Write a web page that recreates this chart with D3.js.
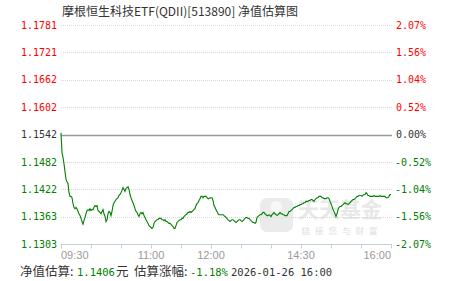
<!DOCTYPE html>
<html>
<head>
<meta charset="utf-8">
<script src="https://cdn.jsdelivr.net/npm/d3@7"></script>
<style>
body { margin: 0; background: #fff; }
svg { display: block; }
</style>
</head>
<body>
<script>
var width = 451, height = 281;

// chart data
var title = "摩根恒生科技ETF(QDII)[513890] 净值估算图";
var baseNav = 1.1542;
var navTicks = [1.1781, 1.1721, 1.1662, 1.1602, 1.1542, 1.1482, 1.1422, 1.1363, 1.1303];
var pctLabels = ["2.07%", "1.56%", "1.04%", "0.52%", "0.00%", "-0.52%", "-1.04%", "-1.56%", "-2.07%"];
var timeTicks = [0, 30, 60, 90, 120, 150, 180, 210, 240, 270, 300, 330];
var timeLabelPos = [0, 90, 150, 240, 330];
var timeLabels = ["09:30", "11:00", "12:00", "14:30", "16:00"];

// estimated nav, one value per trading minute from 09:30 (lunch collapsed)
var nav = [
 1.1546,1.1502,1.1492,1.1478,1.1461,1.1444,1.1439,1.1435,1.1415,1.1407,
 1.1407,1.1404,1.1391,1.1383,1.1380,1.1383,1.1380,1.1374,1.1369,1.1365,
 1.1359,1.1352,1.1346,1.1354,1.1361,1.1369,1.1376,1.1378,1.1376,1.1380,
 1.1376,1.1378,1.1378,1.1383,1.1387,1.1385,1.1387,1.1376,1.1374,1.1372,
 1.1369,1.1374,1.1378,1.1369,1.1363,1.1352,1.1356,1.1369,1.1374,1.1372,
 1.1365,1.1374,1.1387,1.1393,1.1396,1.1400,1.1402,1.1404,1.1409,1.1411,
 1.1415,1.1420,1.1426,1.1422,1.1418,1.1424,1.1426,1.1428,1.1422,1.1411,
 1.1404,1.1398,1.1393,1.1387,1.1380,1.1374,1.1372,1.1367,1.1363,1.1369,
 1.1372,1.1369,1.1372,1.1365,1.1361,1.1356,1.1352,1.1348,1.1343,1.1341,
 1.1339,1.1337,1.1339,1.1348,1.1352,1.1354,1.1356,1.1356,1.1359,1.1359,
 1.1359,1.1356,1.1356,1.1354,1.1356,1.1352,1.1352,1.1350,1.1348,1.1348,
 1.1346,1.1343,1.1341,1.1337,1.1337,1.1343,1.1350,1.1352,1.1354,1.1356,
 1.1356,1.1359,1.1359,1.1363,1.1365,1.1367,1.1369,1.1372,1.1372,1.1374,
 1.1372,1.1374,1.1376,1.1378,1.1380,1.1387,1.1391,1.1393,1.1398,1.1402,
 1.1407,1.1407,1.1404,1.1407,1.1407,1.1407,1.1404,1.1402,1.1402,1.1404,
 1.1404,1.1404,1.1398,1.1387,1.1383,1.1378,1.1374,1.1369,1.1367,1.1367,
 1.1367,1.1367,1.1367,1.1365,1.1363,1.1361,1.1359,1.1356,1.1354,1.1352,
 1.1354,1.1356,1.1356,1.1354,1.1352,1.1350,1.1352,1.1354,1.1356,1.1356,
 1.1354,1.1352,1.1354,1.1356,1.1359,1.1361,1.1361,1.1359,1.1359,1.1356,
 1.1354,1.1352,1.1350,1.1350,1.1348,1.1350,1.1361,1.1363,1.1365,1.1367,
 1.1367,1.1369,1.1372,1.1372,1.1369,1.1367,1.1365,1.1365,1.1367,1.1365,
 1.1363,1.1367,1.1369,1.1372,1.1369,1.1367,1.1365,1.1367,1.1369,1.1372,
 1.1369,1.1369,1.1367,1.1367,1.1365,1.1365,1.1365,1.1369,1.1374,1.1374,
 1.1376,1.1378,1.1380,1.1383,1.1383,1.1385,1.1385,1.1387,1.1387,1.1389,
 1.1389,1.1391,1.1391,1.1393,1.1393,1.1396,1.1396,1.1396,1.1398,1.1398,
 1.1400,1.1400,1.1398,1.1396,1.1400,1.1402,1.1404,1.1404,1.1407,1.1407,
 1.1407,1.1404,1.1404,1.1402,1.1402,1.1402,1.1404,1.1404,1.1402,1.1396,
 1.1391,1.1385,1.1378,1.1374,1.1369,1.1363,1.1369,1.1378,1.1383,1.1385,
 1.1385,1.1387,1.1389,1.1391,1.1393,1.1391,1.1391,1.1389,1.1391,1.1393,
 1.1396,1.1398,1.1400,1.1400,1.1402,1.1404,1.1407,1.1407,1.1409,1.1409,
 1.1409,1.1407,1.1409,1.1411,1.1411,1.1415,1.1413,1.1409,1.1409,1.1407,
 1.1407,1.1407,1.1407,1.1409,1.1407,1.1407,1.1407,1.1407,1.1407,1.1409,
 1.1407,1.1407,1.1407,1.1407,1.1407,1.1404,1.1404,1.1404,1.1407,1.1411,
 1.1411
];

var footer = [
  {t: "净值估算:", c: "#333", cjk: true, x: 20},
  {t: "1.1406", c: "#008000", x: 77},
  {t: "元", c: "#333", cjk: true, x: 116},
  {t: "估算涨幅:", c: "#333", cjk: true, x: 134},
  {t: "-1.18%", c: "#008000", x: 190},
  {t: "2026-01-26 16:00", c: "#333", x: 231}
];

var x = d3.scaleLinear().domain([0, 330]).range([61, 391]);
var y = d3.scaleLinear().domain([1.1303, 1.1781]).range([244, 25]);

var svg = d3.select("body").append("svg")
    .attr("width", width)
    .attr("height", height);

var mono = "'DejaVu Sans Mono', monospace";
var cjk = "'Noto Sans CJK SC', sans-serif";

// title
svg.append("text")
    .attr("x", 180).attr("y", 16)
    .attr("text-anchor", "middle")
    .attr("font-family", cjk)
    .attr("font-size", "12px")
    .attr("fill", "#333")
    .text(title);

// watermark
var wm = svg.append("g");
wm.append("rect")
    .attr("x", 260).attr("y", 198).attr("width", 33).attr("height", 34)
    .attr("rx", 7).attr("fill", "#ebebeb");
wm.append("circle").attr("cx", 276.5).attr("cy", 207).attr("r", 6).attr("fill", "#f7f7f7");
wm.append("text")
    .attr("x", 340).attr("y", 217)
    .attr("text-anchor", "middle")
    .attr("font-family", cjk).attr("font-size", "21px").attr("font-weight", "bold")
    .attr("fill", "#e8e8e8")
    .text("天天基金");
wm.append("text")
    .attr("x", 342).attr("y", 233.5)
    .attr("text-anchor", "middle")
    .attr("font-family", cjk).attr("font-size", "8.5px")
    .attr("letter-spacing", "5px")
    .attr("fill", "#dedede")
    .text("链接您与财富");

// grid
svg.append("g").selectAll("line")
    .data(navTicks.filter(function(d){ return d !== baseNav && d !== 1.1303; }))
    .enter().append("line")
    .attr("x1", 61).attr("x2", 392)
    .attr("y1", function(d){ return Math.round(y(d)) + 0.5; })
    .attr("y2", function(d){ return Math.round(y(d)) + 0.5; })
    .attr("stroke", "#d8d8d8")
    .attr("stroke-dasharray", "1,1");

svg.append("line")
    .attr("x1", 61).attr("x2", 392)
    .attr("y1", Math.round(y(baseNav)) + 0.5).attr("y2", Math.round(y(baseNav)) + 0.5)
    .attr("stroke", "#999").attr("stroke-width", 1.5);

// x axis
var xAxis = svg.append("g")
    .attr("transform", "translate(0," + (Math.round(y(1.1303)) + 0.5) + ")")
    .call(d3.axisBottom(x).tickValues(timeTicks).tickSize(4).tickFormat(""));
xAxis.select(".domain").attr("stroke", "#c4d2e0").attr("d", "M61,0H392");
xAxis.selectAll(".tick line").attr("stroke", "#c4d2e0");

svg.append("g").selectAll("text")
    .data(timeLabelPos)
    .enter().append("text")
    .attr("x", function(d){ return x(d); })
    .attr("y", 259)
    .attr("text-anchor", function(d, i){ return i === 0 ? "start" : (i === timeLabelPos.length - 1 ? "end" : "middle"); })
    .attr("font-family", "'Liberation Sans', Arial, sans-serif")
    .attr("font-size", "11px")
    .attr("fill", "#999")
    .text(function(d, i){ return timeLabels[i]; });

function tickColor(i) {
  if (i < 4) return "#ff0000";
  if (i === 4) return "#333";
  return "#008000";
}

// left labels
svg.append("g").selectAll("text")
    .data(navTicks)
    .enter().append("text")
    .attr("x", 57)
    .attr("y", function(d){ return y(d); })
    .attr("dy", "0.36em")
    .attr("text-anchor", "end")
    .attr("font-family", mono)
    .attr("font-size", "10px")
    .attr("fill", function(d, i){ return tickColor(i); })
    .text(function(d){ return d.toFixed(4); });

// right labels
svg.append("g").selectAll("text")
    .data(navTicks)
    .enter().append("text")
    .attr("x", function(d, i){ return i > 4 ? 395 : 396; })
    .attr("y", function(d){ return y(d); })
    .attr("dy", "0.36em")
    .attr("font-family", mono)
    .attr("font-size", "10px")
    .attr("fill", function(d, i){ return tickColor(i); })
    .text(function(d, i){ return pctLabels[i]; });

// nav line
var line = d3.line()
    .x(function(d, i){ return x(i); })
    .y(function(d){ return y(d); });

svg.append("path")
    .datum(nav)
    .attr("d", line)
    .attr("fill", "none")
    .attr("stroke", "#008000")
    .attr("stroke-width", 1.1);

// footer
svg.append("g").selectAll("text")
    .data(footer)
    .enter().append("text")
    .attr("x", function(d){ return d.x; })
    .attr("y", 276)
    .attr("font-family", function(d){ return d.cjk ? cjk : mono; })
    .attr("font-size", function(d){ return d.cjk ? "12.5px" : "10.5px"; })
    .attr("fill", function(d){ return d.c; })
    .text(function(d){ return d.t; });
</script>
</body>
</html>
